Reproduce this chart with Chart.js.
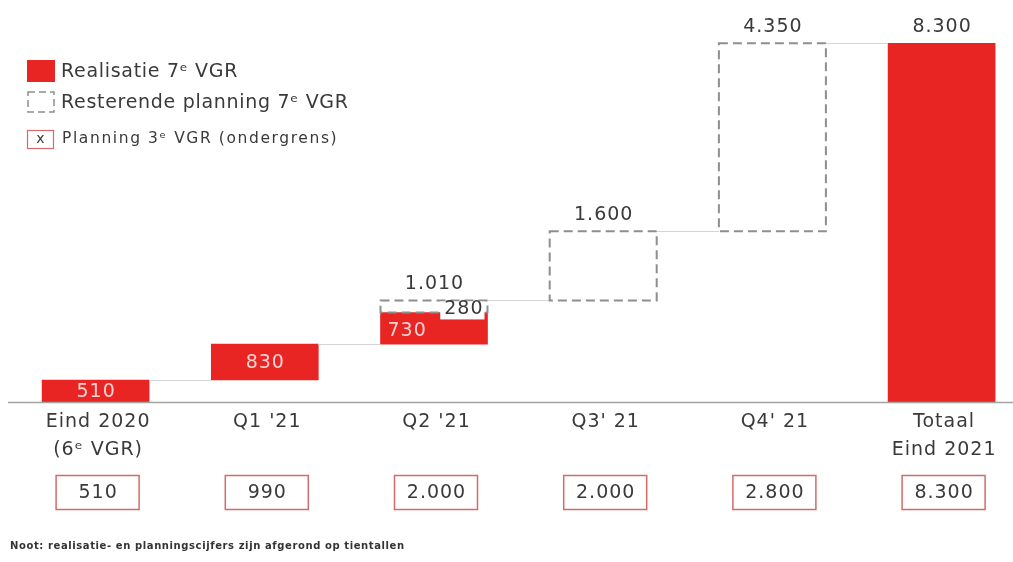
<!DOCTYPE html>
<html>
<head>
<meta charset="utf-8">
<script src="https://cdn.jsdelivr.net/npm/chart.js@4/dist/chart.umd.min.js"></script>
<style>
  html, body { margin: 0; padding: 0; background: #fff; }
  #wrap { width: 1013px; height: 562px; position: relative; }
</style>
</head>
<body>
<div id="wrap"><canvas id="c"></canvas></div>
<script>
// categorieën en waarden
const categories = [["Eind 2020", "(6ᵉ VGR)"], ["Q1 '21"], ["Q2 '21"], ["Q3' 21"], ["Q4' 21"], ["Totaal", "Eind 2021"]];
const stepRealised = [510, 830, 730, 0, 0];
const stepPlanned  = [0, 0, 280, 1600, 4350];
const totalValue = 8300;
const planning3 = [510, 990, 2000, 2000, 2800, 8300];

const RED = "#e82523";
const TXT = "#3a3a3a";
const FONT = "'DejaVu Sans', Verdana, sans-serif";

function nfmt(n){
  return String(n).replace(/\B(?=(\d{3})+(?!\d))/g, ".");
}

// watervalreeksen opbouwen
let running = 0;
const realisedData = [];
const plannedData = [];
const tops = [];
stepRealised.forEach((r, i) => {
  realisedData.push({ x: i, y: r > 0 ? [running, running + r] : null });
  running += r;
  const p = stepPlanned[i];
  plannedData.push({ x: i, y: p > 0 ? [running, running + p] : null });
  running += p;
  tops.push(running);
});
realisedData.push({ x: 5, y: [0, totalValue] });
plannedData.push({ x: 5, y: null });
tops.push(totalValue);

function txt(ctx, s, x, y, spacing){
  ctx.letterSpacing = (spacing || 0) + "px";
  let dx = 0;
  if (ctx.textAlign === "center") dx = (spacing || 0) / 2;
  if (ctx.textAlign === "right") dx = (spacing || 0);
  ctx.fillText(s, x + dx, y);
  ctx.letterSpacing = "0px";
}

const drawExtras = {
  id: "drawExtras",
  afterDatasetsDraw(chart){
    const ctx = chart.ctx;
    const xs = chart.scales.x, ys = chart.scales.y;
    const mR = chart.getDatasetMeta(0).data;
    const mP = chart.getDatasetMeta(1).data;
    const half = 107 / 2;
    ctx.save();

    // verbindingslijnen
    ctx.strokeStyle = "#d4d4d4";
    ctx.lineWidth = 1;
    for (let i = 0; i < tops.length - 1; i++){
      const y = Math.round(ys.getPixelForValue(tops[i])) + 0.5;
      ctx.beginPath();
      ctx.moveTo(xs.getPixelForValue(i) + half, y);
      ctx.lineTo(xs.getPixelForValue(i + 1) - half, y);
      ctx.stroke();
    }

    // gestippelde planning
    ctx.strokeStyle = "#8e8e8e";
    ctx.lineWidth = 2;
    ctx.setLineDash([9, 5]);
    plannedData.forEach((d, i) => {
      if (!d.y) return;
      const el = mP[i];
      const top = Math.min(el.y, el.base), h = Math.abs(el.base - el.y);
      ctx.strokeRect(el.x - el.width / 2, top, el.width, h);
    });
    ctx.setLineDash([]);

    // basislijn
    const y0 = Math.round(ys.getPixelForValue(0)) + 0.5;
    ctx.strokeStyle = "#a3a3a3";
    ctx.lineWidth = 1.5;
    ctx.beginPath(); ctx.moveTo(8, y0); ctx.lineTo(chart.width, y0); ctx.stroke();

    // labels in de rode balken
    ctx.font = "19px " + FONT;
    ctx.fillStyle = "#fbd3d3";
    ctx.textBaseline = "middle";
    stepRealised.forEach((r, i) => {
      if (!r) return;
      const el = mR[i];
      const cy = (el.y + el.base) / 2 + 1;
      if (stepPlanned[i] > 0){
        ctx.textAlign = "left";
        txt(ctx, nfmt(r), el.x - el.width / 2 + 7, cy + 2, 1);
      } else {
        ctx.textAlign = "center";
        txt(ctx, nfmt(r), el.x, cy, 1);
      }
    });

    // label naast gedeeltelijke planning
    stepPlanned.forEach((p, i) => {
      if (!p || !stepRealised[i]) return;
      const el = mP[i];
      const s = nfmt(p);
      ctx.letterSpacing = "1px";
      const w = ctx.measureText(s).width;
      ctx.letterSpacing = "0px";
      const rx = el.x + el.width / 2 - 5;
      const cy = (el.y + el.base) / 2 + 3;
      ctx.fillStyle = "#fff";
      ctx.fillRect(rx - w - 3, el.y + 1, w + 5, 18);
      ctx.fillStyle = TXT;
      ctx.textAlign = "right";
      txt(ctx, s, rx, cy, 1);
    });

    // labels boven de kolommen
    ctx.fillStyle = TXT;
    ctx.textAlign = "center";
    for (let i = 2; i < 6; i++){
      const val = i < 5 ? stepRealised[i] + stepPlanned[i] : totalValue;
      txt(ctx, nfmt(val), xs.getPixelForValue(i), ys.getPixelForValue(tops[i]) - 16, 1);
    }

    // categorielabels en planning 3e VGR
    categories.forEach((lines, i) => {
      const cx = xs.getPixelForValue(i) + 2;
      ctx.fillStyle = TXT;
      ctx.font = "19px " + FONT;
      lines.forEach((ln, k) => txt(ctx, ln, cx, 422 + k * 28, 1));
      ctx.strokeStyle = "#d46a6a";
      ctx.lineWidth = 1.5;
      ctx.strokeRect(cx - 41.5, 475.5, 83, 34);
      txt(ctx, nfmt(planning3[i]), cx, 493, 1);
    });

    // legenda
    ctx.fillStyle = RED;
    ctx.fillRect(27, 60, 28, 22);
    ctx.strokeStyle = "#8e8e8e";
    ctx.lineWidth = 1.5;
    ctx.setLineDash([7, 4]);
    ctx.strokeRect(28, 92, 26, 20);
    ctx.setLineDash([]);
    ctx.strokeStyle = "#d46a6a";
    ctx.lineWidth = 1.2;
    ctx.strokeRect(27.5, 130.5, 26, 18);
    ctx.fillStyle = TXT;
    ctx.textAlign = "left";
    ctx.font = "19px " + FONT;
    txt(ctx, "Realisatie 7ᵉ VGR", 61, 72, 0.7);
    txt(ctx, "Resterende planning 7ᵉ VGR", 61, 103, 0.7);
    ctx.font = "14px " + FONT;
    ctx.textAlign = "center";
    ctx.fillText("x", 40.5, 139);
    ctx.textAlign = "left";
    ctx.font = "15.5px " + FONT;
    txt(ctx, "Planning 3ᵉ VGR (ondergrens)", 62, 139, 1.6);

    // noot
    ctx.font = "bold 10px " + FONT;
    ctx.fillStyle = "#333";
    txt(ctx, "Noot: realisatie- en planningscijfers zijn afgerond op tientallen", 10, 546, 0.6);

    ctx.restore();
  }
};

new Chart(document.getElementById("c"), {
  type: "bar",
  data: {
    datasets: [
      { label: "Realisatie 7ᵉ VGR", data: realisedData, backgroundColor: RED, borderWidth: 0, grouped: false, barThickness: 107 },
      { label: "Resterende planning 7ᵉ VGR", data: plannedData, backgroundColor: "rgba(0,0,0,0)", borderWidth: 0, grouped: false, barThickness: 107 }
    ]
  },
  options: {
    responsive: true,
    maintainAspectRatio: false,
    animation: false,
    layout: { padding: { top: 13, bottom: 160, left: 11, right: 0 } },
    plugins: { legend: { display: false }, tooltip: { enabled: false } },
    scales: {
      x: { type: "linear", min: -0.5, max: 5.422, offset: false, display: false },
      y: { min: 0, max: 9000, display: false }
    }
  },
  plugins: [drawExtras]
});
</script>
</body>
</html>
